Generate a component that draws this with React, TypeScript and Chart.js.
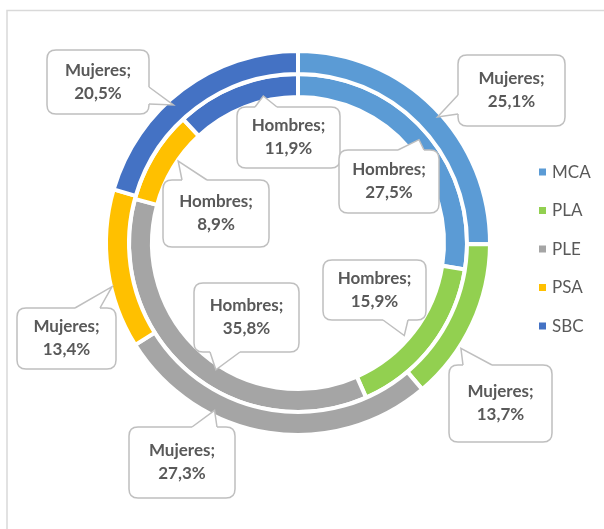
import { useEffect, useRef } from 'react';
import { Chart, registerables } from 'chart.js';

Chart.register(...registerables);

const categories = ['MCA', 'PLA', 'PLE', 'PSA', 'SBC'];
const seriesNames = ['Mujeres', 'Hombres'];
const mujeres = [25.1, 13.7, 27.3, 13.4, 20.5];
const hombres = [27.5, 15.9, 35.8, 8.9, 11.9];
const colors = ['#5B9BD5', '#92D050', '#A5A5A5', '#FFC000', '#4472C4'];

type Side = 'top' | 'bottom' | 'left' | 'right';
type Callout = {
  ds: number;
  idx: number;
  box: [number, number, number, number];
  side: Side;
  base: [number, number];
  t: number;
  f: number;
};

// Layout of the data-label callouts (box rect, pointer base on a side, anchor inside the arc)
const callouts: Callout[] = [
  { ds: 0, idx: 4, box: [47, 50, 102, 64], side: 'right', base: [87, 104], t: 0.43, f: 0.74 },
  { ds: 0, idx: 0, box: [458, 55, 107, 71], side: 'left', base: [95, 114], t: 0.53, f: 0.83 },
  { ds: 1, idx: 4, box: [237, 107, 103, 61], side: 'top', base: [255, 277], t: 0.69, f: 0.22 },
  { ds: 1, idx: 0, box: [339, 150, 100, 63], side: 'top', base: [398, 424], t: 0.5, f: 0.57 },
  { ds: 1, idx: 3, box: [163, 180, 106, 67], side: 'top', base: [182, 207], t: 0.6, f: -0.04 },
  { ds: 1, idx: 1, box: [323, 260, 103, 60], side: 'bottom', base: [383, 408], t: 0.56, f: -0.22 },
  { ds: 1, idx: 2, box: [194, 283, 105, 69], side: 'bottom', base: [210, 240], t: 0.44, f: 0.22 },
  { ds: 0, idx: 3, box: [17, 308, 99, 61], side: 'top', base: [75, 100], t: 0.39, f: 0.96 },
  { ds: 0, idx: 1, box: [449, 365, 103, 77], side: 'top', base: [463, 492], t: 0.66, f: 1.09 },
  { ds: 0, idx: 2, box: [129, 427, 106, 71], side: 'top', base: [192, 217], t: 0.68, f: 0.78 },
];

const TEXT = '#595959';
const BOX_STROKE = '#BFBFBF';

function fmt(v: number) {
  return v.toFixed(1).replace('.', ',') + '%';
}

function roundRectPath(ctx: CanvasRenderingContext2D, x: number, y: number, w: number, h: number, r: number) {
  ctx.beginPath();
  ctx.moveTo(x + r, y);
  ctx.lineTo(x + w - r, y);
  ctx.quadraticCurveTo(x + w, y, x + w, y + r);
  ctx.lineTo(x + w, y + h - r);
  ctx.quadraticCurveTo(x + w, y + h, x + w - r, y + h);
  ctx.lineTo(x + r, y + h);
  ctx.quadraticCurveTo(x, y + h, x, y + h - r);
  ctx.lineTo(x, y + r);
  ctx.quadraticCurveTo(x, y, x + r, y);
  ctx.closePath();
}

const overlayPlugin = {
  id: 'overlay',
  beforeDraw(chart: any) {
    const ctx: CanvasRenderingContext2D = chart.ctx;
    ctx.save();
    ctx.fillStyle = '#ffffff';
    ctx.fillRect(0, 0, chart.width, chart.height);
    ctx.strokeStyle = '#D9D9D9';
    ctx.lineWidth = 1.5;
    ctx.beginPath();
    ctx.moveTo(7, chart.height + 2);
    ctx.lineTo(7, 10.5);
    ctx.lineTo(chart.width + 2, 10.5);
    ctx.stroke();
    ctx.restore();
  },
  afterDatasetsDraw(chart: any) {
    const ctx: CanvasRenderingContext2D = chart.ctx;
    ctx.save();
    // legend
    ctx.font = '17px Lato';
    ctx.textBaseline = 'middle';
    ctx.textAlign = 'left';
    categories.forEach((name, i) => {
      const y = 172 + i * 38.5;
      ctx.fillStyle = colors[i];
      ctx.fillRect(539, y - 3.5, 7, 7);
      ctx.fillStyle = TEXT;
      ctx.fillText(name, 552, y + 0.5);
    });

    // callouts
    callouts.forEach((c) => {
      const meta = chart.getDatasetMeta(c.ds);
      const el: any = meta.data[c.idx];
      const p = el.getProps(['x', 'y', 'startAngle', 'endAngle', 'innerRadius', 'outerRadius'], true);
      const a = p.startAngle + c.t * (p.endAngle - p.startAngle);
      const r = p.innerRadius + c.f * (p.outerRadius - p.innerRadius);
      const tip: [number, number] = [p.x + Math.cos(a) * r, p.y + Math.sin(a) * r];

      const [x, y, w, h] = c.box;
      ctx.lineWidth = 1.5;
      ctx.strokeStyle = BOX_STROKE;
      ctx.fillStyle = '#ffffff';
      roundRectPath(ctx, x, y, w, h, 9);
      ctx.fill();
      ctx.stroke();

      let p1: [number, number], p2: [number, number], in1: [number, number], in2: [number, number];
      const d = 2.5;
      if (c.side === 'top') {
        p1 = [c.base[0], y]; p2 = [c.base[1], y];
        in1 = [c.base[0], y + d]; in2 = [c.base[1], y + d];
      } else if (c.side === 'bottom') {
        p1 = [c.base[0], y + h]; p2 = [c.base[1], y + h];
        in1 = [c.base[0], y + h - d]; in2 = [c.base[1], y + h - d];
      } else if (c.side === 'left') {
        p1 = [x, c.base[0]]; p2 = [x, c.base[1]];
        in1 = [x + d, c.base[0]]; in2 = [x + d, c.base[1]];
      } else {
        p1 = [x + w, c.base[0]]; p2 = [x + w, c.base[1]];
        in1 = [x + w - d, c.base[0]]; in2 = [x + w - d, c.base[1]];
      }
      ctx.beginPath();
      ctx.moveTo(in1[0], in1[1]);
      ctx.lineTo(p1[0], p1[1]);
      ctx.lineTo(tip[0], tip[1]);
      ctx.lineTo(p2[0], p2[1]);
      ctx.lineTo(in2[0], in2[1]);
      ctx.closePath();
      ctx.fill();
      ctx.beginPath();
      ctx.moveTo(p1[0], p1[1]);
      ctx.lineTo(tip[0], tip[1]);
      ctx.lineTo(p2[0], p2[1]);
      ctx.stroke();

      const values = c.ds === 0 ? mujeres : hombres;
      ctx.fillStyle = TEXT;
      ctx.font = 'bold 17px Lato';
      ctx.textAlign = 'center';
      ctx.textBaseline = 'middle';
      const cx = x + w / 2;
      const cy = y + h / 2;
      ctx.fillText(seriesNames[c.ds] + ';', cx, cy - 11.5);
      ctx.fillText(fmt(values[c.idx]), cx, cy + 11.5);
    });
    ctx.restore();
  },
};

export default function App() {
  const ref = useRef<HTMLCanvasElement>(null);
  useEffect(() => {
    const chart = new Chart(ref.current!, {
      type: 'doughnut',
      data: {
        labels: categories,
        datasets: [
          {
            label: seriesNames[0],
            data: mujeres,
            backgroundColor: colors,
            borderColor: '#ffffff',
            borderWidth: 4,
          },
          {
            label: seriesNames[1],
            data: hombres,
            backgroundColor: colors,
            borderColor: '#ffffff',
            borderWidth: 4,
          },
        ],
      },
      options: {
        responsive: false,
        animation: false,
        radius: 192,
        cutout: '76.04%',
        layout: { padding: { left: 0, right: 8, top: 0, bottom: 43 } },
        plugins: {
          legend: { display: false },
          tooltip: { enabled: false },
          title: { display: false },
        },
      } as any,
      plugins: [overlayPlugin],
    });
    return () => chart.destroy();
  }, []);
  return (
    <div style={{ position: 'fixed', left: 0, top: 0, width: 604, height: 529, background: '#fff' }}>
      <canvas ref={ref} width={604} height={529} style={{ display: 'block', width: 604, height: 529 }} />
    </div>
  );
}
